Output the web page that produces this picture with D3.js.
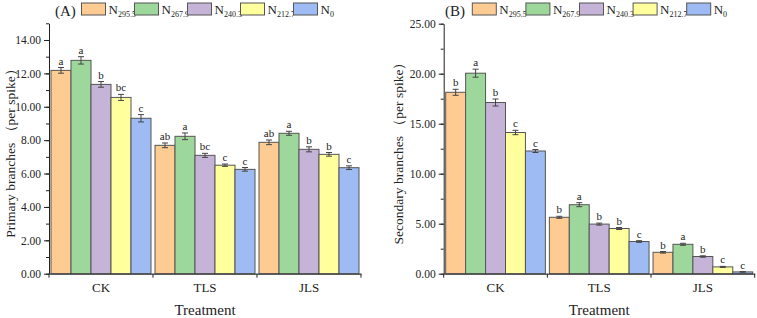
<!DOCTYPE html>
<html><head><meta charset="utf-8">
<script src="https://cdn.jsdelivr.net/npm/d3@7"></script>
<style>body{margin:0;background:#fff}svg text{font-family:"Liberation Serif","DejaVu Serif","Times New Roman",serif !important}</style>
</head><body><svg id="c" width="757" height="318"></svg>
<script>
const categories = ["CK","TLS","JLS"];
const seriesNames = ["295.5","267.9","240.3","212.7","0"];
const colors = ["#FECB93","#9ED79C","#C5B3D8","#FFFF9E","#9EBBF4"];
// Panel A: primary branches
const primaryVals = [[12.18,12.78,11.34,10.56,9.31],[7.69,8.23,7.09,6.50,6.25],[7.87,8.41,7.45,7.15,6.35]];
const primaryErr  = [[0.17,0.22,0.17,0.18,0.22],[0.14,0.20,0.12,0.07,0.11],[0.14,0.12,0.15,0.11,0.11]];
const primaryLet  = [["a","a","b","bc","c"],["ab","a","bc","c","c"],["ab","a","b","b","c"]];
const primaryTicks = [0,2,4,6,8,10,12,14];
// Panel B: secondary branches
const secondaryVals = [[18.14,20.05,17.12,14.12,12.27],[5.64,6.90,4.96,4.52,3.22],[2.14,2.94,1.72,0.68,0.18]];
const secondaryErr  = [[0.30,0.40,0.35,0.22,0.15],[0.10,0.20,0.10,0.10,0.08],[0.08,0.10,0.07,0.05,0.03]];
const secondaryLet  = [["b","a","b","c","c"],["b","a","b","b","c"],["b","a","b","c","c"]];
const secondaryTicks = [0,5,10,15,20,25];

const FONT = "'Liberation Serif','DejaVu Serif',serif";
const svg = d3.select("#c").attr("font-family",FONT);

function panel(o){
  const g = svg.append("g").attr("font-family",FONT);
  const x = d3.scaleBand().domain(categories).range([o.x0,o.x1]).paddingInner(0).paddingOuter(0);
  const inner = d3.scaleBand().domain(seriesNames).range([0,x.bandwidth()]).paddingOuter(0.1).paddingInner(0);
  const y = d3.scaleLinear().domain([0,o.max]).range([o.y0,o.y1]);
  categories.forEach((c,ci)=>{
    seriesNames.forEach((s,si)=>{
      const v=o.vals[ci][si], e=o.err[ci][si];
      const bx=x(c)+inner(s), bw=inner.bandwidth();
      g.append("rect").attr("x",bx).attr("y",y(v)).attr("width",bw).attr("height",y(0)-y(v))
        .attr("fill",colors[si]).attr("stroke","#555").attr("stroke-width",1);
      const cx=bx+bw/2;
      g.append("line").attr("x1",cx).attr("x2",cx).attr("y1",y(v+e)).attr("y2",y(v-e)).attr("stroke","#444");
      [v+e,v-e].forEach(t=>g.append("line").attr("x1",cx-3).attr("x2",cx+3).attr("y1",y(t)).attr("y2",y(t)).attr("stroke","#444"));
      g.append("text").attr("x",cx).attr("y",y(v+e)-3).attr("text-anchor","middle").attr("font-size",11).attr("fill","#222").text(o.lets[ci][si]);
    });
  });
  const minor=[]; for(let t=0;t<=o.max+1e-9;t+=o.minorStep) minor.push(t);
  g.append("g").attr("transform",`translate(${o.x0},0)`).call(d3.axisLeft(y).tickValues(minor).tickSize(3).tickFormat(""))
    .call(a=>a.select(".domain").remove()).selectAll("line").attr("stroke","#222");
  const ya=g.append("g").attr("transform",`translate(${o.x0},0)`).call(d3.axisLeft(y).tickValues(o.ticks).tickSize(5).tickSizeOuter(0).tickFormat(d3.format(".2f")));
  ya.attr("font-family",FONT);
  ya.select(".domain").attr("stroke","#222");
  ya.selectAll("line").attr("stroke","#222");
  ya.selectAll("text").attr("font-size",11.5).attr("fill","#222").attr("x",-8);
  const xa=g.append("g").attr("transform",`translate(0,${o.y0})`).call(d3.axisBottom(x).tickSize(0).tickSizeOuter(0));
  xa.attr("font-family",FONT);
  xa.select(".domain").attr("stroke","#222");
  xa.selectAll("text").attr("font-size",13).attr("fill","#222").attr("dy","0.71em").attr("y",9);
  const bounds=[o.x0].concat(categories.map(c=>x(c)+x.bandwidth()));
  bounds.forEach(b=>g.append("line").attr("x1",b).attr("x2",b).attr("y1",o.y0).attr("y2",o.y0+4).attr("stroke","#222"));
  g.append("text").attr("x",(o.x0+o.x1)/2).attr("y",315).attr("text-anchor","middle").attr("font-size",15).attr("fill","#222").text("Treatment");
  g.append("text").attr("transform",`translate(${o.titleX},${o.titleY}) rotate(-90)`).attr("text-anchor","middle").attr("font-size",13.5).attr("fill","#222").text(o.title);
  g.append("text").attr("x",o.labX).attr("y",16).attr("font-size",15).attr("fill","#222").text(o.label);
  seriesNames.forEach((s,i)=>{
    const lx=o.legX+i*o.legStep;
    g.append("rect").attr("x",lx).attr("y",3).attr("width",24).attr("height",12).attr("fill",colors[i]).attr("stroke","#555");
    const t=g.append("text").attr("x",lx+27).attr("y",14).attr("font-size",13).attr("fill","#222");
    t.append("tspan").text("N");
    t.append("tspan").attr("font-size",8).attr("dy",3).text(s);
  });
}

panel({x0:49,x1:361,y0:273.7,y1:23.3,max:15,minorStep:1,ticks:primaryTicks,vals:primaryVals,err:primaryErr,lets:primaryLet,
  title:"Primary branches （per spike）",titleX:15,titleY:150,label:"(A)",labX:55,legX:81.5,legStep:53});
panel({x0:443.7,x1:754.7,y0:273.7,y1:23.7,max:25,minorStep:2.5,ticks:secondaryTicks,vals:secondaryVals,err:secondaryErr,lets:secondaryLet,
  title:"Secondary branches （per spike）",titleX:403,titleY:150,label:"(B)",labX:445,legX:472.3,legStep:53.6});
</script></body></html>
